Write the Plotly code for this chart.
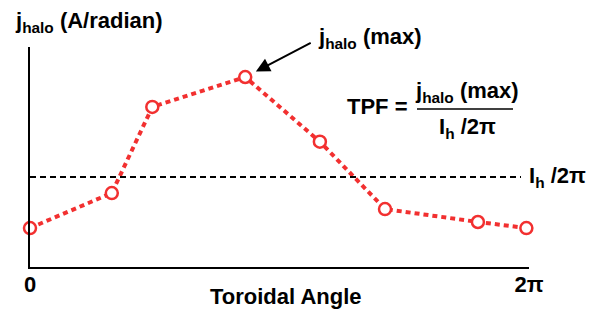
import math
import plotly.graph_objects as go

# ---- data ----
angle = [0.0, 1.03, 1.54, 2.71, 3.65, 4.47, 5.64, 6.25]          # toroidal angle (rad)
j_halo = [0.433, 0.822, 1.778, 2.111, 1.392, 0.644, 0.500, 0.433]  # j_halo in units of I_h/2pi
ih_level = 1.0                                                     # I_h / 2pi
x_ticks = [0.0, 2 * math.pi]
x_ticklabels = ["0", "2π"]

RED = "#f23030"
FONT = "Liberation Sans, Arial, sans-serif"
FS = 22

# page has an 8px body margin: build the figure so the plot lands where the reference has it
OFF = 8
W, H = 603 - OFF, 313 - OFF
PX0, PX1, PY0, PY1 = 30, 529, 47, 267          # plot area in page pixels
L, T = PX0 - OFF, PY0 - OFF
R, B = W - (PX1 - OFF), H - (PY1 - OFF)
pw, ph = PX1 - PX0, PY1 - PY0


def px(xp):
    return (xp - PX0) / pw


def py(yp):
    return (PY1 - yp) / ph


def tfont(size=FS):
    return dict(size=size, color="black", family=FONT)


fig = go.Figure()

fig.add_trace(go.Scatter(
    x=angle, y=j_halo, mode="lines+markers",
    line=dict(color=RED, width=4, dash="5px,4px"),
    marker=dict(symbol="circle", size=12, color="white",
                line=dict(color=RED, width=2.5)),
    cliponaxis=False, showlegend=False, hoverinfo="skip",
))

# I_h / 2pi dashed reference level
fig.add_shape(type="line", xref="paper", yref="y",
              x0=0, x1=px(521), y0=ih_level, y1=ih_level,
              line=dict(color="black", width=2, dash="6px,4px"))

imax = max(range(len(j_halo)), key=lambda i: j_halo[i])

annotations = [
    # y-axis title
    dict(text="<b>j<sub>halo</sub> (A/radian)</b>", xref="paper", yref="paper",
         x=px(13), y=py(22), xanchor="left", yanchor="middle",
         showarrow=False, font=tfont()),
    # x-axis title
    dict(text="<b>Toroidal Angle</b>", xref="paper", yref="paper",
         x=px(286), y=py(296), xanchor="center", yanchor="middle",
         showarrow=False, font=tfont()),
    # I_h/2pi label
    dict(text="<b>I<sub>h</sub> /2π</b>", xref="paper", yref="y",
         x=px(527), y=ih_level, xanchor="left", yanchor="middle",
         showarrow=False, font=tfont()),
    # arrow to max
    dict(text="", x=angle[imax], y=j_halo[imax], xref="x", yref="y",
         showarrow=True, ax=67, ay=-35, axref="pixel", ayref="pixel",
         arrowhead=2, arrowsize=1.4, arrowwidth=2, arrowcolor="black",
         standoff=12),
    dict(text="<b>j<sub>halo</sub> (max)</b>", xref="paper", yref="paper",
         x=px(316), y=py(38), xanchor="left", yanchor="middle",
         showarrow=False, font=tfont()),
    # TPF formula
    dict(text="<b>TPF =</b>", xref="paper", yref="paper",
         x=px(377), y=py(106), xanchor="center", yanchor="middle",
         showarrow=False, font=tfont()),
    dict(text="<b>j<sub>halo</sub> (max)</b>", xref="paper", yref="paper",
         x=px(467), y=py(92), xanchor="center", yanchor="middle",
         showarrow=False, font=tfont()),
    dict(text="<b>I<sub>h</sub> /2π</b>", xref="paper", yref="paper",
         x=px(467), y=py(128), xanchor="center", yanchor="middle",
         showarrow=False, font=tfont()),
]

fig.add_shape(type="line", xref="paper", yref="paper",
              x0=px(417), x1=px(513), y0=py(109), y1=py(109),
              line=dict(color="black", width=1.5))

fig.update_layout(
    width=W, height=H,
    margin=dict(l=L, r=R, t=T, b=B, pad=0),
    paper_bgcolor="white", plot_bgcolor="white",
    annotations=annotations,
    xaxis=dict(range=[0, 2 * math.pi], showgrid=False, zeroline=False,
               showline=True, linecolor="black", linewidth=2,
               tickmode="array", tickvals=x_ticks, ticktext=x_ticklabels,
               ticks="", tickfont=dict(size=FS, color="black", family=FONT,
                                       weight="bold"),
               ticklabelstandoff=-3),
    yaxis=dict(range=[0, ph / 90], showgrid=False, zeroline=False,
               showline=True, linecolor="black", linewidth=2,
               showticklabels=False, ticks=""),
)

fig.write_html("out.html")
